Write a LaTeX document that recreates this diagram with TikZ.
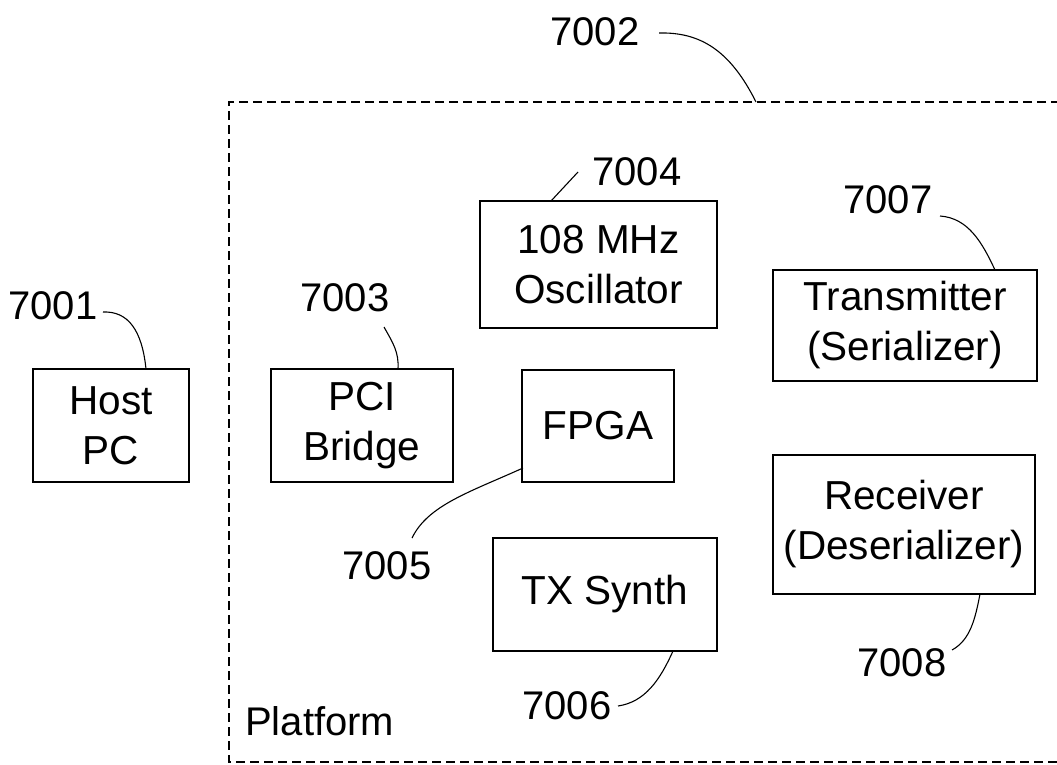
\documentclass[tikz,border=0pt]{standalone}
\usepackage{fontspec}
\setmainfont{Liberation Sans}
\begin{document}
\begin{tikzpicture}[x=1pt,y=-1pt,
  blk/.style={draw=black,line width=1.4pt,rectangle,inner sep=0pt,align=center,
    font=\fontsize{40.5}{50}\selectfont},
  num/.style={inner sep=0pt,font=\fontsize{40}{48}\selectfont},
  lead/.style={draw=black,line width=1.1pt},
  plat/.style={draw=black,line width=1.3pt,dash pattern=on 9pt off 5pt}]
\useasboundingbox (0,0) rectangle (1057,764);
% platform dashed frame
\coordinate (ptr) at (1060,102);
\coordinate (ptl) at (229,102);
\coordinate (pbl) at (229,762);
\coordinate (pbr) at (1060,762);
\begin{scope}
\clip (0,0) rectangle (1057,764);
\draw[plat] (ptr) -- (ptl) -- (pbl) -- (pbr);
\end{scope}
\node[anchor=base west,num] (platform) at (245,735) {Platform};
% blocks
\node[blk,minimum width=156,minimum height=113] (host) at (111,425.5) {Host\\PC};
\node[blk,minimum width=182,minimum height=113] (pci) at (362,425.5) {PCI\\Bridge};
\node[blk,minimum width=237,minimum height=127] (osc) at (598.5,264.5) {108 MHz\\Oscillator};
\node[blk,minimum width=152,minimum height=112] (fpga) at (598,426) {FPGA};
\node[blk,minimum width=224,minimum height=113] (tx) at (605,594.5) {TX Synth};
\node[blk,minimum width=264,minimum height=111] (trans) at (905,325.5) {Transmitter\\(Serializer)};
\node[blk,minimum width=262,minimum height=139] (recv) at (904,524.5) {Receiver\\(Deserializer)};
% reference numerals
\node[num] (n7001) at (53,306) {7001};
\node[num] (n7002) at (595,32) {7002};
\node[num] (n7003) at (345,298) {7003};
\node[num] (n7004) at (637,172) {7004};
\node[num] (n7005) at (387,566) {7005};
\node[num] (n7006) at (567,706) {7006};
\node[num] (n7007) at (888,200) {7007};
\node[num] (n7008) at (902,663) {7008};
% leader ends
\coordinate (a1) at (103,312); \coordinate (b1) at (146,369);
\coordinate (a2) at (659,33);  \coordinate (b2) at (756,102);
\coordinate (a3) at (384,327); \coordinate (b3) at (398,369);
\coordinate (a4) at (578,172); \coordinate (b4) at (551,201);
\coordinate (a5) at (412,538); \coordinate (b5) at (523,468);
\coordinate (a6) at (618,706); \coordinate (b6) at (673,651);
\coordinate (a7) at (940,216); \coordinate (b7) at (995,270);
\coordinate (a8) at (952,650); \coordinate (b8) at (980,594);
\draw[lead] (a1) .. controls (128,311) and (142,330) .. (b1);
\draw[lead] (a2) .. controls (700,32) and (730,50) .. (b2);
\draw[lead] (a3) .. controls (393,343) and (399,352) .. (b3);
\draw[lead] (a4) -- (b4);
\draw[lead] (a5) .. controls (428,505) and (470,492) .. (b5);
\draw[lead] (a6) .. controls (645,702) and (660,680) .. (b6);
\draw[lead] (a7) .. controls (968,218) and (982,242) .. (b7);
\draw[lead] (a8) .. controls (970,640) and (975,620) .. (b8);
\end{tikzpicture}
\end{document}
